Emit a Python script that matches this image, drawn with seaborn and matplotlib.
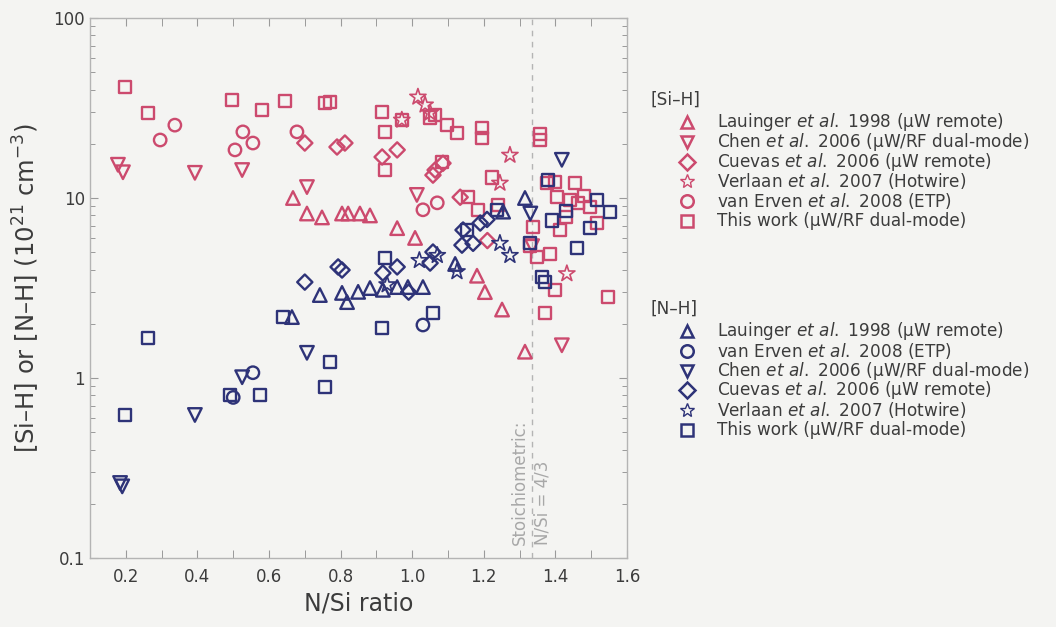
import numpy as np
import pandas as pd
import seaborn as sns
import matplotlib
matplotlib.use("Agg")
import matplotlib.pyplot as plt
from matplotlib.lines import Line2D
from matplotlib.ticker import LogLocator, FixedLocator, FuncFormatter, NullFormatter

# ---------------- data: [Si-H] bond densities (1e21 cm^-3) ----------------
lau_sih_x = [0.667, 0.706, 0.748, 0.804, 0.821, 0.854, 0.882, 0.958, 1.008, 1.181, 1.203, 1.251, 1.315]
lau_sih_y = [10.0, 8.2, 7.8, 8.2, 8.2, 8.2, 8.0, 6.8, 6.0, 3.7, 3.0, 2.4, 1.4]

chen_sih_x = [0.178, 0.192, 0.393, 0.525, 0.706, 1.013, 1.335, 1.418]
chen_sih_y = [15.3, 13.9, 13.8, 14.3, 11.5, 10.4, 5.4, 1.52]

cue_sih_x = [0.70, 0.79, 0.812, 0.916, 0.958, 1.058, 1.064, 1.086, 1.134, 1.21]
cue_sih_y = [20.2, 19.2, 20.2, 16.9, 18.5, 13.4, 14.3, 15.6, 10.1, 5.8]

ver_sih_x = [0.971, 1.016, 1.036, 1.05, 1.245, 1.273, 1.432]
ver_sih_y = [27.1, 36.4, 32.9, 29.7, 12.1, 17.3, 3.8]

erv_sih_x = [0.296, 0.337, 0.505, 0.527, 0.555, 0.678, 1.03, 1.07]
erv_sih_y = [21.0, 25.4, 18.5, 23.3, 20.2, 23.3, 8.6, 9.4]

this_sih_x = [0.198, 0.262, 0.497, 0.58, 0.645, 0.756, 0.77, 0.916, 0.924, 0.924,
              0.971, 1.05, 1.064, 1.097, 1.125, 1.083, 1.195, 1.195, 1.156, 1.184,
              1.223, 1.24, 1.337, 1.329, 1.349, 1.357, 1.357, 1.37, 1.377, 1.385,
              1.40, 1.40, 1.405, 1.413, 1.44, 1.455, 1.463, 1.497, 1.516, 1.547,
              1.43, 1.48]
this_sih_y = [41.4, 29.7, 35.0, 30.8, 34.6, 33.8, 34.3, 30.0, 23.3, 14.3,
              27.1, 28.0, 28.9, 25.4, 23.0, 15.8, 24.5, 21.5, 10.1, 8.6,
              13.0, 9.1, 6.9, 5.4, 4.7, 22.8, 21.0, 2.3, 12.1, 4.9,
              12.3, 3.08, 10.1, 6.6, 9.8, 12.1, 9.4, 8.9, 7.3, 2.82,
              7.8, 10.2]

# ---------------- data: [N-H] bond densities (1e21 cm^-3) ----------------
lau_nh_x = [0.664, 0.742, 0.804, 0.818, 0.849, 0.882, 0.918, 0.958, 0.988, 1.03, 1.12, 1.254, 1.315]
lau_nh_y = [2.18, 2.89, 2.97, 2.64, 3.01, 3.16, 3.09, 3.2, 3.2, 3.2, 4.3, 8.4, 10.0]

erv_nh_x = [0.50, 0.555, 1.03]
erv_nh_y = [0.78, 1.07, 1.97]

chen_nh_x = [0.184, 0.19, 0.393, 0.525, 0.706, 1.33, 1.418]
chen_nh_y = [0.261, 0.25, 0.623, 1.01, 1.38, 8.2, 16.3]

cue_nh_x = [0.70, 0.793, 0.804, 0.918, 0.958, 0.99, 1.05, 1.058, 1.139, 1.142, 1.17, 1.19, 1.209]
cue_nh_y = [3.41, 4.14, 3.98, 3.83, 4.14, 3.0, 4.35, 5.01, 5.47, 6.64, 5.6, 7.26, 7.6]

ver_nh_x = [0.93, 1.02, 1.07, 1.125, 1.245, 1.273]
ver_nh_y = [3.3, 4.5, 4.8, 3.9, 5.6, 4.8]

this_nh_x = [0.198, 0.262, 0.491, 0.575, 0.639, 0.756, 0.770, 0.916, 0.924, 1.058,
             1.153, 1.237, 1.363, 1.371, 1.379, 1.46, 1.497, 1.516, 1.553, 1.33,
             1.39, 1.43]
this_nh_y = [0.62, 1.67, 0.80, 0.80, 2.18, 0.89, 1.23, 1.90, 4.64, 2.30,
             6.64, 8.58, 3.64, 3.40, 12.6, 5.27, 6.81, 9.75, 8.36, 5.6,
             7.5, 8.5]

x_ticks = [0.2, 0.4, 0.6, 0.8, 1.0, 1.2, 1.4, 1.6]
y_ticks = [0.1, 1, 10, 100]

PINK = "#cc4a6e"
NAVY = "#2e3378"
BG = "#f4f4f2"
TXT = "#3c3c3c"

sih_series = [
    ("Lauinger $\\it{et\\ al.}$ 1998 (μW remote)", lau_sih_x, lau_sih_y, "^"),
    ("Chen $\\it{et\\ al.}$ 2006 (μW/RF dual-mode)", chen_sih_x, chen_sih_y, "v"),
    ("Cuevas $\\it{et\\ al.}$ 2006 (μW remote)", cue_sih_x, cue_sih_y, "D"),
    ("Verlaan $\\it{et\\ al.}$ 2007 (Hotwire)", ver_sih_x, ver_sih_y, "*"),
    ("van Erven $\\it{et\\ al.}$ 2008 (ETP)", erv_sih_x, erv_sih_y, "o"),
    ("This work (μW/RF dual-mode)", this_sih_x, this_sih_y, "s"),
]
nh_series = [
    ("Lauinger $\\it{et\\ al.}$ 1998 (μW remote)", lau_nh_x, lau_nh_y, "^"),
    ("van Erven $\\it{et\\ al.}$ 2008 (ETP)", erv_nh_x, erv_nh_y, "o"),
    ("Chen $\\it{et\\ al.}$ 2006 (μW/RF dual-mode)", chen_nh_x, chen_nh_y, "v"),
    ("Cuevas $\\it{et\\ al.}$ 2006 (μW remote)", cue_nh_x, cue_nh_y, "D"),
    ("Verlaan $\\it{et\\ al.}$ 2007 (Hotwire)", ver_nh_x, ver_nh_y, "*"),
    ("This work (μW/RF dual-mode)", this_nh_x, this_nh_y, "s"),
]

sns.set_theme(style="ticks")
plt.rcParams["font.family"] = ["DejaVu Sans"]
plt.rcParams["mathtext.fontset"] = "dejavusans"

fig = plt.figure(figsize=(10.56, 6.27), dpi=100, facecolor=BG)
ax = fig.add_axes([90 / 1056, 69 / 627, 537 / 1056, 540 / 627])
ax.set_facecolor(BG)

# marker sizes (pt^2) per shape so the outlines look alike
sizes = {"^": 95, "v": 95, "D": 60, "*": 150, "o": 80, "s": 75}
lw = 1.7


def draw(series, color):
    for label, xs, ys, m in series:
        df = pd.DataFrame({"x": xs, "y": ys})
        sns.scatterplot(data=df, x="x", y="y", ax=ax, marker=m, s=sizes[m],
                        color=color, facecolor="none", edgecolor=color,
                        linewidth=lw if m != "*" else 1.2, legend=False, zorder=3)


draw(sih_series, PINK)
draw(nh_series, NAVY)

ax.set_yscale("log")
ax.set_xlim(0.1, 1.6)
ax.set_ylim(0.1, 100)

# stoichiometric composition marker
ax.axvline(4 / 3, color="#b4b4b4", ls=(0, (4, 4)), lw=1.0, zorder=1)
ax.text(4 / 3, 0.118, "Stoichiometric:\nN/Si = 4/3", rotation=90, ha="center",
        va="bottom", multialignment="left", color="#a8a8a8", fontsize=12,
        linespacing=1.35, zorder=2)

ax.xaxis.set_major_locator(FixedLocator(x_ticks))
ax.xaxis.set_minor_locator(FixedLocator(np.round(np.arange(0.1, 1.61, 0.1), 2)))
ax.set_xticklabels([f"{v:.1f}" for v in x_ticks])
ax.yaxis.set_major_locator(FixedLocator(y_ticks))
ax.yaxis.set_major_formatter(FuncFormatter(lambda v, p: f"{v:g}"))
ax.yaxis.set_minor_locator(LogLocator(base=10, subs=np.arange(2, 10)))
ax.yaxis.set_minor_formatter(NullFormatter())

ax.tick_params(which="both", direction="in", top=True, right=True,
               color="#9a9a9a", labelcolor=TXT, labelsize=12)
ax.tick_params(which="major", length=6, width=0.8)
ax.tick_params(which="minor", length=3.5, width=0.7)
ax.tick_params(axis="x", which="minor", length=6)
ax.tick_params(axis="x", which="major", pad=7)
for sp in ax.spines.values():
    sp.set_color("#b4b4b4")
    sp.set_linewidth(1.0)

ax.set_xlabel("N/Si ratio", fontsize=17, color=TXT, labelpad=4)
ax.set_ylabel("[Si–H] or [N–H] (10$^{21}$ cm$^{-3}$)", fontsize=17.5,
              color=TXT, labelpad=8)

W, H = 1056, 627
LEG_FS = 12.2
ROW = 19.8


def legend_block(series, color, header, top_px):
    fig.text(650 / W, 1 - top_px / H, header, fontsize=LEG_FS, color=TXT,
             ha="left", va="center")
    for i, (label, _, _, m) in enumerate(series):
        yc = top_px + 22 + ROW * i
        fig.add_artist(Line2D([687 / W], [1 - yc / H], transform=fig.transFigure,
                              ls="none", marker=m, markerfacecolor="none",
                              markeredgecolor=color,
                              markeredgewidth=1.8 if m != "*" else 1.0,
                              markersize={"D": 8, "*": 10}.get(m, 9)))
        fig.text(717 / W, 1 - yc / H, label, fontsize=LEG_FS, color=TXT,
                 ha="left", va="center")


legend_block(sih_series, PINK, "[Si–H]", 100)
legend_block(nh_series, NAVY, "[N–H]", 309)

fig.savefig("out.png", dpi=100, facecolor=BG)
